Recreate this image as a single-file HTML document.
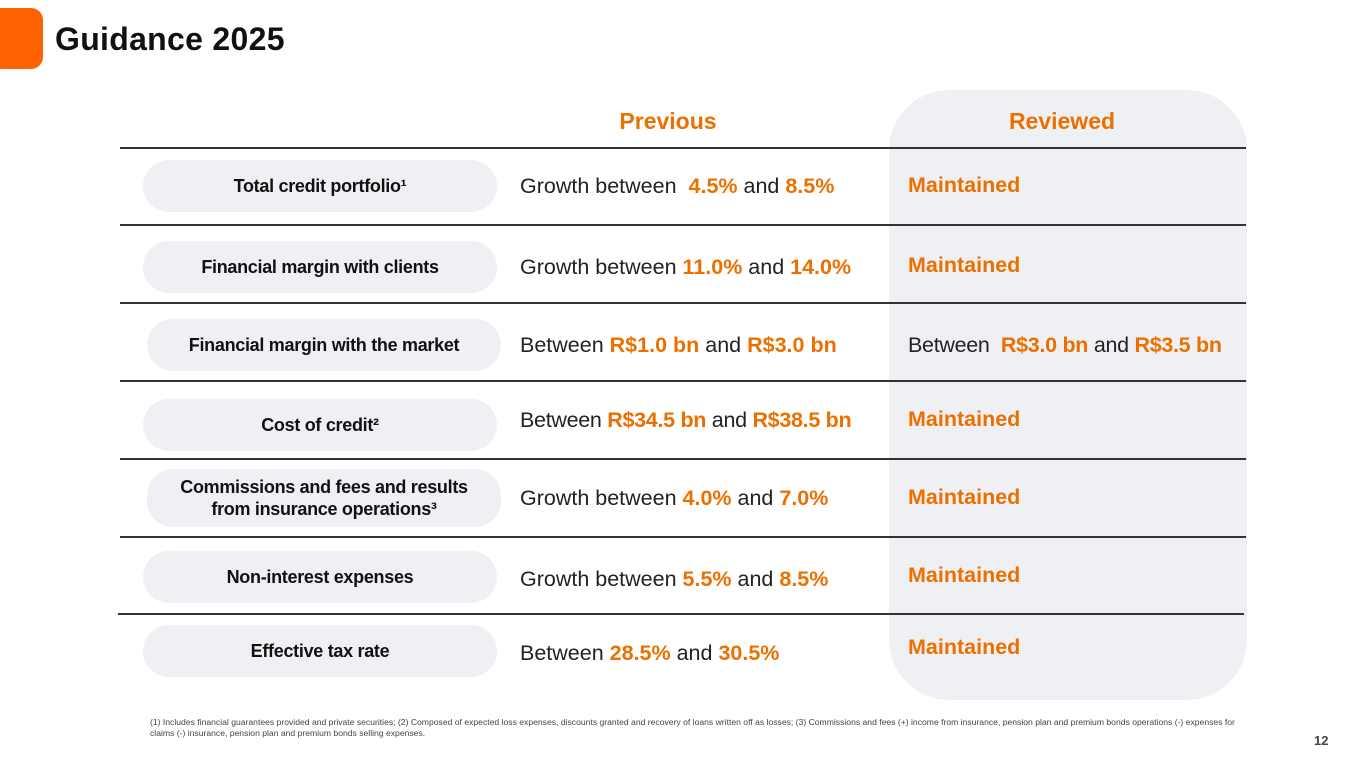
<!DOCTYPE html>
<html><head><meta charset="utf-8"><style>
body{margin:0;width:1365px;height:768px;position:relative;background:#fff;font-family:"Liberation Sans",sans-serif;overflow:hidden;color:#222}
.a{position:absolute}
.line{position:absolute;height:2px;background:#333}
.pill{position:absolute;left:143px;width:354px;height:52px;border-radius:26px;background:#eff0f3;display:flex;align-items:center;justify-content:center;text-align:center;font-weight:bold;font-size:18px;color:#111;letter-spacing:-0.3px;line-height:22px}
.prev{position:absolute;left:520px;font-size:21.5px;letter-spacing:0px;color:#222;white-space:nowrap}
.rev{position:absolute;left:908px;font-size:21.5px;letter-spacing:0px;white-space:nowrap}
.o{color:#ec7000;font-weight:bold}
</style></head><body>
<div class="a" style="left:-10px;top:8px;width:53px;height:61px;background:#ff6200;border-radius:12px"></div>
<div class="a" style="left:55px;top:21px;font-size:32px;font-weight:bold;color:#111;letter-spacing:0.3px">Guidance 2025</div>
<div class="a" style="left:889px;top:90px;width:358px;height:610px;background:#eff0f3;border-radius:60px"></div>
<div class="a o" style="left:568px;width:200px;text-align:center;top:108px;font-size:23px">Previous</div>
<div class="a o" style="left:962px;width:200px;text-align:center;top:108px;font-size:23px">Reviewed</div>
<div class="line" style="left:120px;width:1126px;top:147px"></div>
<div class="line" style="left:120px;width:1126px;top:224px"></div>
<div class="line" style="left:120px;width:1126px;top:302px"></div>
<div class="line" style="left:120px;width:1126px;top:380px"></div>
<div class="line" style="left:120px;width:1126px;top:458px"></div>
<div class="line" style="left:120px;width:1126px;top:536px"></div>
<div class="line" style="left:118px;width:1126px;top:613px"></div>

<div class="pill" style="top:160px">Total credit portfolio¹</div>
<div class="prev" style="top:174px">Growth between &nbsp;<span class="o">4.5%</span> and <span class="o">8.5%</span></div>
<div class="rev o" style="top:173px">Maintained</div>

<div class="pill" style="top:241px">Financial margin with clients</div>
<div class="prev" style="top:255px">Growth between <span class="o">11.0%</span> and <span class="o">14.0%</span></div>
<div class="rev o" style="top:253px">Maintained</div>

<div class="pill" style="top:319px;left:147px">Financial margin with the market</div>
<div class="prev" style="top:333px">Between <span class="o">R$1.0 bn</span> and <span class="o">R$3.0 bn</span></div>
<div class="rev" style="top:333px;letter-spacing:-0.3px">Between &nbsp;<span class="o">R$3.0 bn</span> and <span class="o">R$3.5 bn</span></div>

<div class="pill" style="top:399px">Cost of credit²</div>
<div class="prev" style="top:408px;letter-spacing:-0.3px">Between <span class="o">R$34.5 bn</span> and <span class="o">R$38.5 bn</span></div>
<div class="rev o" style="top:407px">Maintained</div>

<div class="pill" style="top:469px;height:58px;left:147px">Commissions and fees and results<br>from insurance operations³</div>
<div class="prev" style="top:486px">Growth between <span class="o">4.0%</span> and <span class="o">7.0%</span></div>
<div class="rev o" style="top:485px">Maintained</div>

<div class="pill" style="top:551px">Non-interest expenses</div>
<div class="prev" style="top:567px">Growth between <span class="o">5.5%</span> and <span class="o">8.5%</span></div>
<div class="rev o" style="top:563px">Maintained</div>

<div class="pill" style="top:625px">Effective tax rate</div>
<div class="prev" style="top:641px">Between <span class="o">28.5%</span> and <span class="o">30.5%</span></div>
<div class="rev o" style="top:635px">Maintained</div>

<div class="a" style="left:150px;top:717px;width:1090px;font-size:8.6px;line-height:11px;color:#444">(1) Includes financial guarantees provided and private securities; (2) Composed of expected loss expenses, discounts granted and recovery of loans written off as losses; (3) Commissions and fees (+) income from insurance, pension plan and premium bonds operations (-) expenses for claims (-) insurance, pension plan and premium bonds selling expenses.</div>
<div class="a" style="left:1314px;top:733px;font-size:13px;font-weight:bold;color:#444">12</div>
</body></html>
